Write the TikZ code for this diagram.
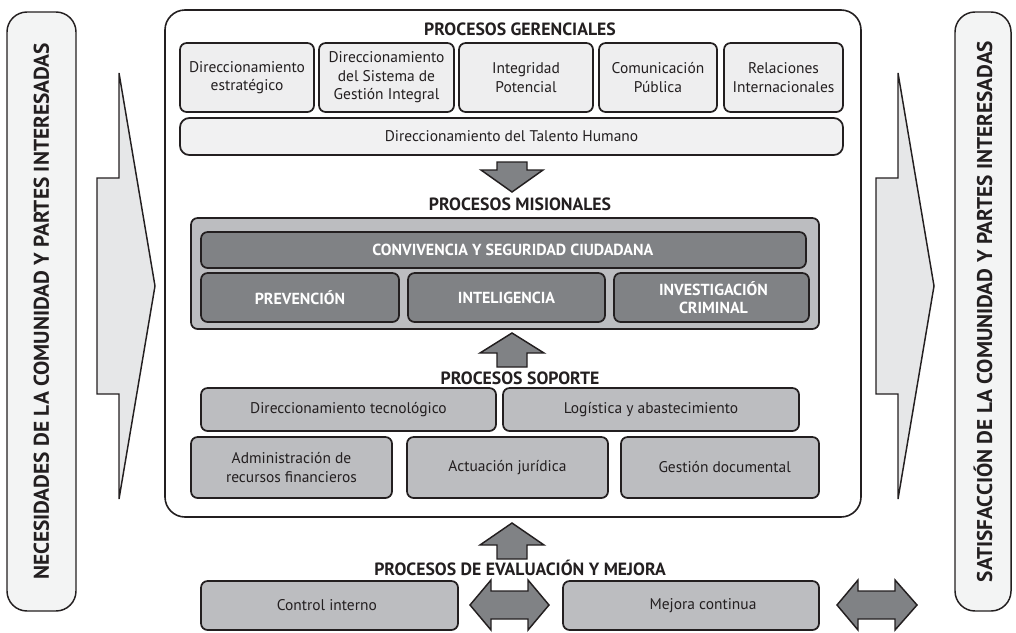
\documentclass[tikz,border=0pt]{standalone}
\usepackage{fontspec}
\setmainfont{PT Sans}
\usetikzlibrary{fit}
\definecolor{ink}{HTML}{231F20}
\definecolor{sidefill}{HTML}{F3F4F4}
\definecolor{bigarrow}{HTML}{E6E7E8}
\definecolor{gerfill}{HTML}{EEEEEF}
\definecolor{talfill}{HTML}{F1F1F2}
\definecolor{misout}{HTML}{BCBDC0}
\definecolor{misin}{HTML}{808285}
\definecolor{sopfill}{HTML}{BCBDC0}
\definecolor{grayarrow}{HTML}{808285}
\tikzset{
  sidebox/.style={draw=ink, line width=1.1pt, fill=sidefill, rounded corners=15pt, inner sep=0pt},
  sidetext/.style={rotate=90, font=\fontsize{16}{18}\selectfont\bfseries, text=ink},
  mainbox/.style={draw=ink, line width=1.2pt, fill=white, rounded corners=15pt, inner sep=0pt},
  bx/.style={draw=ink, line width=1.3pt, rounded corners=5pt, inner sep=0pt},
  lbl/.style={align=center, inner sep=0pt, font=\fontsize{11.6}{13.8}\selectfont, text=ink},
  ger/.style={bx, fill=gerfill},
  gerlbl/.style={lbl},
  tal/.style={bx, fill=talfill, rounded corners=7pt},
  tallbl/.style={lbl},
  misouter/.style={bx, fill=misout},
  misinner/.style={bx, fill=misin},
  misinnerlbl/.style={lbl, text=white, font=\fontsize{12}{14}\selectfont\bfseries},
  sop/.style={bx, fill=sopfill},
  soplbl/.style={lbl},
  title/.style={font=\fontsize{13.3}{15}\selectfont\bfseries, text=ink, inner sep=0pt},
  bigarr/.style={draw=ink, line width=1.1pt, fill=bigarrow, line join=miter},
  grayarr/.style={draw=ink, line width=1.1pt, fill=grayarrow, line join=miter}
}
% \pbox{style}{name}{x1}{y1}{x2}{y2}{label x shift}{text}
\newcommand{\pbox}[8]{%
  \node[#1, fit={(#3,#4) (#5,#6)}] (#2) {};
  \node[#1lbl] (#2lbl) at ([xshift=#7]#2.center) {#8};}
\begin{document}
\begin{tikzpicture}[x=0.75pt,y=-0.75pt]
\useasboundingbox (0,0) rectangle (1016,632);

% side boxes
\node[sidebox, fit={(7,12) (76,611)}] (left) {};
\node[sidetext] at (left.center) (lefttext) {NECESIDADES DE LA COMUNIDAD Y PARTES INTERESADAS};
\node[sidebox, fit={(955,12) (1011,611)}] (right) {};
\node[sidetext] at (right.center) (righttext) {SATISFACCIÓN DE LA COMUNIDAD Y PARTES INTERESADAS};

% big side arrows
\draw[bigarr] (97,178) -- (119,178) -- (119,73) -- (155,286) -- (119,499) -- (119,394) -- (97,394) -- cycle;
\draw[bigarr] (876,178) -- (898,178) -- (898,73) -- (934,286) -- (898,499) -- (898,394) -- (876,394) -- cycle;

% main box
\node[mainbox, fit={(165,10) (861,517)}] (main) {};

% gerenciales
\node[title] (tger) at (520,29) {PROCESOS GERENCIALES};
\pbox{ger}{g1}{180}{43}{314}{112}{0pt}{Direccionamiento\\estratégico}
\pbox{ger}{g2}{319}{43}{454}{112}{0pt}{Direccionamiento\\del Sistema de\\Gestión Integral}
\pbox{ger}{g3}{459}{43}{593}{112}{0pt}{Integridad\\Potencial}
\pbox{ger}{g4}{599}{43}{717}{112}{0pt}{Comunicación\\Pública}
\pbox{ger}{g5}{724}{43}{843}{112}{0pt}{Relaciones\\Internacionales}
\pbox{tal}{tal}{180}{118}{843}{155}{0pt}{Direccionamiento del Talento Humano}

% arrow down
\draw[grayarr] (497,162) -- (527,162) -- (527,170) -- (543,170) -- (512,192) -- (481,170) -- (497,170) -- cycle;

% misionales
\node[title] (tmis) at (520,204) {PROCESOS MISIONALES};
\node[misouter, fit={(191,218) (819,329)}] (mis) {};
\pbox{misinner}{conv}{201}{232}{806}{268}{7pt}{CONVIVENCIA Y SEGURIDAD CIUDADANA}
\pbox{misinner}{prev}{201}{273}{399}{322}{0pt}{PREVENCIÓN}
\pbox{misinner}{intel}{408}{273}{605}{322}{0pt}{INTELIGENCIA}
\pbox{misinner}{inv}{614}{273}{809}{322}{1.5pt}{INVESTIGACIÓN\\CRIMINAL}

% arrow up 1
\draw[grayarr] (497,367) -- (527,367) -- (527,353) -- (544,353) -- (512,333) -- (480,353) -- (497,353) -- cycle;

% soporte
\node[title] (tsop) at (520,378) {PROCESOS SOPORTE};
\pbox{sop}{s1}{201}{388}{496}{431}{0pt}{Direccionamiento tecnológico}
\pbox{sop}{s2}{503}{388}{799}{431}{0pt}{Logística y abastecimiento}
\pbox{sop}{s3}{191}{437}{392}{498}{0pt}{Administración de\\recursos financieros}
\pbox{sop}{s4}{407}{437}{608}{498}{0pt}{Actuación jurídica}
\pbox{sop}{s5}{621}{437}{819}{498}{3.5pt}{Gestión documental}

% arrow up 2
\draw[grayarr] (497,559) -- (527,559) -- (527,545) -- (544,545) -- (512,523) -- (480,545) -- (497,545) -- cycle;

% evaluacion
\node[title] (tev) at (520,568) {PROCESOS DE EVALUACIÓN Y MEJORA};
\pbox{sop}{ci}{201}{581}{458}{630}{-2pt}{Control interno}
\pbox{sop}{mc}{563}{581}{819}{630}{9pt}{Mejora continua}

% double arrows
\draw[grayarr] (470,605) -- (491,580) -- (491,591) -- (528,591) -- (528,580) -- (549,605) -- (528,630) -- (528,619) -- (491,619) -- (491,630) -- cycle;
\draw[grayarr] (837,605) -- (858,580) -- (858,591) -- (895,591) -- (895,580) -- (917,605) -- (895,630) -- (895,619) -- (858,619) -- (858,630) -- cycle;
\end{tikzpicture}
\end{document}
